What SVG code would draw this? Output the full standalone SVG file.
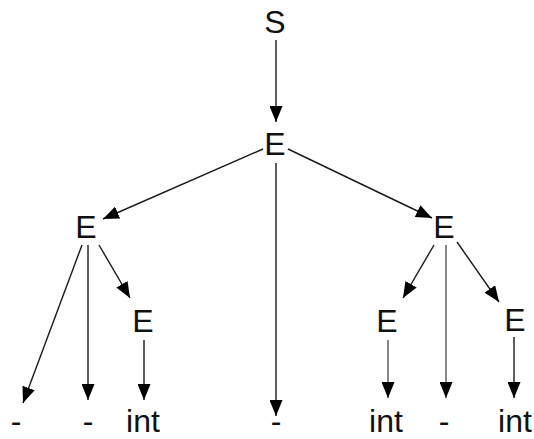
<svg xmlns="http://www.w3.org/2000/svg" width="534" height="439" viewBox="0 0 534 439">
<style>
text{font-family:"Liberation Sans",Arial,sans-serif;font-size:32px;fill:#111;text-anchor:middle}
.c line{stroke:#1a1a1a;stroke-width:1.4;marker-end:url(#ah)}
.c line.g{stroke:#555}
</style>
<defs>
<marker id="ah" markerUnits="userSpaceOnUse" markerWidth="17" markerHeight="13" refX="16" refY="6.5" orient="auto" viewBox="0 0 17 13">
<path d="M0,0 L16,6.5 L0,13 z" fill="#000"/>
</marker>
</defs>
<rect width="534" height="439" fill="#fff"/>
<g id="n-S"><text x="275" y="33">S</text></g>
<g id="n-E0"><text x="275" y="155">E</text></g>
<g id="n-EL"><text x="86" y="238">E</text></g>
<g id="n-ER"><text x="444" y="238">E</text></g>
<g id="n-ELr"><text x="143" y="332">E</text></g>
<g id="n-ERl"><text x="387" y="332">E</text></g>
<g id="n-ERr"><text x="515" y="331">E</text></g>
<g id="t-1"><text x="16" y="432">-</text></g>
<g id="t-2"><text x="88" y="432">-</text></g>
<g id="t-3"><text x="143" y="432">int</text></g>
<g id="t-4"><text x="276" y="432">-</text></g>
<g id="t-5"><text x="386" y="432">int</text></g>
<g id="t-6"><text x="444" y="432">-</text></g>
<g id="t-7"><text x="515" y="432">int</text></g>
<g class="c" id="connectors">
<line x1="276" y1="40" x2="276" y2="122"/>
<line x1="263" y1="149" x2="103" y2="219"/>
<line x1="276" y1="163" x2="276" y2="416"/>
<line x1="288" y1="149" x2="432" y2="218"/>
<line x1="82" y1="245" x2="23" y2="403"/>
<line x1="88" y1="245" x2="88" y2="400"/>
<line x1="99" y1="245" x2="130" y2="298"/>
<line x1="144" y1="340" x2="144" y2="400"/>
<line x1="434" y1="245" x2="403" y2="298"/>
<line class="g" x1="446" y1="245" x2="446" y2="398"/>
<line x1="457" y1="242" x2="499" y2="302"/>
<line class="g" x1="388" y1="340" x2="388" y2="398"/>
<line x1="514" y1="337" x2="514" y2="398"/>
</g>
</svg>
